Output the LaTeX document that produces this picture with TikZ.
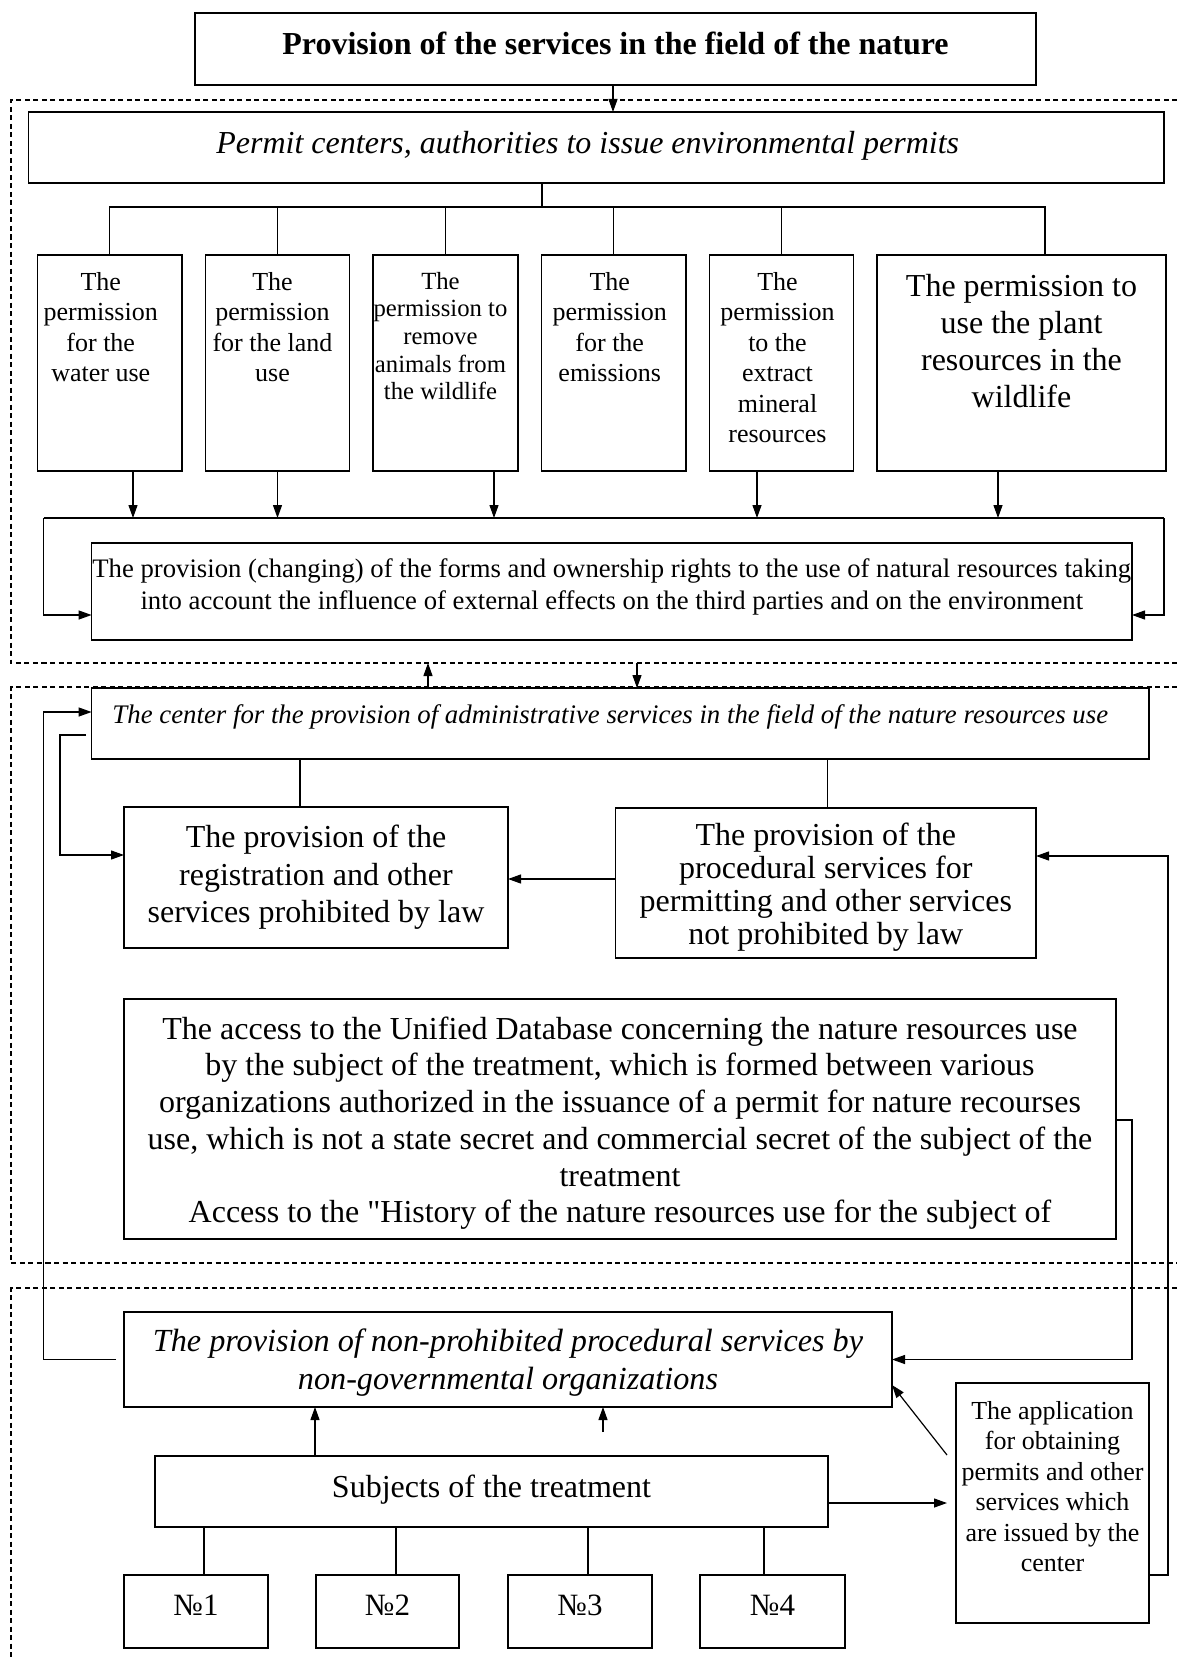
\documentclass[tikz,border=0pt]{standalone}
\usepackage{fontspec}
\setmainfont[Ligatures=TeXOff]{Liberation Serif}
\usetikzlibrary{arrows.meta,calc}
\newcommand\fs[2]{\fontsize{#1}{#2}\selectfont}
\tikzset{
 bx/.style={draw, line width=1.5pt, inner sep=0pt, outer sep=0pt},
 ln/.style={line width=1.2pt},
 arr/.style={line width=1.2pt, -{Triangle[length=13pt,width=9pt]}},
 dsh/.style={line width=1.3pt, dash pattern=on 5pt off 3.5pt},
 txt/.style={align=center, inner sep=0pt, anchor=north},
 ctxt/.style={align=center, inner sep=0pt},
}
% #1 text opts, #2 name, #3 x1, #4 y1, #5 x2, #6 y2, #7 text shift (up), #8 text
\newcommand\mybox[8][]{%
 \node[bx,minimum width={#5-#3},minimum height={#6-#4}] (#2) at ({(#3+#5)/2},{(#4+#6)/2}) {};%
 \node[ctxt,#1] (#2t) at ([yshift=#7]#2.center) {#8};}
\begin{document}
\begin{tikzpicture}[x=1pt,y=-1pt]
\useasboundingbox (0,0) rectangle (1177,1664);
% sections
\draw[dsh] (1177,100) -- (11,100) -- (11,663) -- (1177,663);
\draw[dsh] (1177,687) -- (11,687) -- (11,1263) -- (1177,1263);
\draw[dsh] (1177,1288) -- (11,1288) -- (11,1657);
\coordinate (s1b) at (11,663);
% top
\mybox[font=\bfseries\fs{32}{36}]{title}{195}{13}{1036}{85}{5.3pt}{Provision of the services in the field of the nature}
\mybox[font=\itshape\fs{32}{36},xshift=-8.5pt]{permit}{28.5}{112}{1164}{183}{2pt}{Permit centers, authorities to issue environmental permits}
\draw[arr] ([xshift=-2.5pt]title.south) -- ([xshift=-2.5pt]title.south |- permit.north);
% six boxes
\mybox{p1}{37.5}{255}{182}{471}{0pt}{}
\mybox{p2}{205.5}{255}{349.5}{471}{0pt}{}
\mybox{p3}{373}{255}{518}{471}{0pt}{}
\mybox{p4}{541.5}{255}{686}{471}{0pt}{}
\mybox{p5}{709.5}{255}{853.5}{471}{0pt}{}
\mybox{p6}{877}{255}{1166}{471}{0pt}{}
\node[txt,font=\fs{26}{30.5}] (t1) at ([yshift=-17pt,xshift=-9pt]p1.north) {The\\permission\\for the\\water use};
\node[txt,font=\fs{26}{30.5}] (t2) at ([yshift=-17pt,xshift=-5pt]p2.north) {The\\permission\\for the land\\use};
\node[txt,font=\fs{24.7}{27.6}] (t3) at ([yshift=-17pt,xshift=-5pt]p3.north) {The\\permission to\\remove\\animals from\\the wildlife};
\node[txt,font=\fs{26}{30.5}] (t4) at ([yshift=-17pt,xshift=-4pt]p4.north) {The\\permission\\for the\\emissions};
\node[txt,font=\fs{26}{30.5}] (t5) at ([yshift=-17pt,xshift=-4pt]p5.north) {The\\permission\\to the\\extract\\mineral\\resources};
\node[txt,font=\fs{32}{37}] (t6) at ([yshift=-19pt]p6.north) {The permission to\\use the plant\\resources in the\\wildlife};
\coordinate (bus) at (542,207);
\draw[ln] (permit.south -| bus) -- (bus);
\draw[ln] (p1.north) -- (p1.north |- bus) -- ([xshift=23.5pt]p6.north |- bus) -- ([xshift=23.5pt]p6.north);
\draw[ln] (p2.north) -- (p2.north |- bus);
\draw[ln] (p3.north) -- (p3.north |- bus);
\draw[ln] (p4.north) -- (p4.north |- bus);
\draw[ln] (p5.north) -- (p5.north |- bus);
% provision box
\mybox[font=\fs{26.7}{32}]{prov}{91.6}{543}{1132}{640}{4.2pt}{The provision (changing) of the forms and ownership rights to the use of natural resources taking\\into account the influence of external effects on the third parties and on the environment}
\coordinate (cl) at (43.5,518);
\coordinate (cr) at (1164,518);
\draw[ln] (cl) -- (cr);
\draw[arr] ([xshift=23.25pt]p1.south) -- ([xshift=23.25pt]p1.south |- cl);
\draw[arr] (p2.south) -- (p2.south |- cl);
\draw[arr] ([xshift=48.5pt]p3.south) -- ([xshift=48.5pt]p3.south |- cl);
\draw[arr] ([xshift=-24.5pt]p5.south) -- ([xshift=-24.5pt]p5.south |- cl);
\draw[arr] ([xshift=-23.5pt]p6.south) -- ([xshift=-23.5pt]p6.south |- cl);
\draw[arr] (cl) |- ([yshift=-23.5pt]prov.west);
\draw[arr] (cr) |- ([yshift=-23.5pt]prov.east);
% section 2
\mybox[font=\itshape\fs{26.8}{30},xshift=-10pt]{center}{91.6}{688}{1149}{759}{6.4pt}{The center for the provision of administrative services in the field of the nature resources use}
\draw[arr] ([xshift=-192.3pt]center.north) -- ([xshift=-192.3pt]center.north |- s1b);
\draw[arr] ([xshift=16.7pt]center.north |- s1b) -- ([xshift=16.7pt]center.north);
\mybox[font=\fs{32}{37.5}]{reg}{124}{807}{508}{948}{0pt}{The provision of the\\registration and other\\services prohibited by law}
\mybox[font=\fs{32}{33}]{proc}{615.6}{808}{1036}{958}{-4.5pt}{The provision of the\\procedural services for\\permitting and other services\\not prohibited by law}
\draw[ln] ([xshift=-16pt]reg.north) -- ([xshift=-16pt]reg.north |- center.south);
\draw[ln] ([xshift=2pt]proc.north) -- ([xshift=2pt]proc.north |- center.south);
\draw[arr] ([yshift=4pt]proc.west) -- ([yshift=4pt]proc.west -| reg.east);
\coordinate (l2) at (60,735);
\draw[arr] ([xshift=-5.6pt]center.west |- l2) -- (l2) |- ([yshift=22.5pt]reg.west);
\mybox[font=\fs{32}{36.7}]{db}{124}{999}{1116}{1239}{-4.2pt}{The access to the Unified Database concerning the nature resources use\\by the subject of the treatment, which is formed between various\\organizations authorized in the issuance of a permit for nature recourses\\use, which is not a state secret and commercial secret of the subject of the\\treatment\\Access to the "History of the nature resources use for the subject of}
% section 3
\mybox[font=\itshape\fs{32.2}{38}]{ngo}{124}{1312}{892}{1407}{-3pt}{The provision of non-prohibited procedural services by\\non-governmental organizations}
\mybox[font=\fs{32}{36}]{subj}{155}{1456}{828}{1527}{2pt}{Subjects of the treatment}
\mybox{app}{956}{1383}{1149}{1623}{0pt}{}
\node[txt,font=\fs{26}{30.5}] (tapp) at ([yshift=-18pt]app.north) {The application\\for obtaining\\permits and other\\services which\\are issued by the\\center};
\mybox[font=\fs{31}{36}]{n1}{124}{1575}{268}{1648}{6.4pt}{№1}
\mybox[font=\fs{31}{36}]{n2}{316}{1575}{459}{1648}{6.4pt}{№2}
\mybox[font=\fs{31}{36}]{n3}{508}{1575}{652}{1648}{6.4pt}{№3}
\mybox[font=\fs{31}{36}]{n4}{700}{1575}{845}{1648}{6.4pt}{№4}
\draw[ln] ([xshift=8pt]n1.north) -- ([xshift=8pt]n1.north |- subj.south);
\draw[ln] ([xshift=8.5pt]n2.north) -- ([xshift=8.5pt]n2.north |- subj.south);
\draw[ln] ([xshift=8pt]n3.north) -- ([xshift=8pt]n3.north |- subj.south);
\draw[ln] ([xshift=-8.5pt]n4.north) -- ([xshift=-8.5pt]n4.north |- subj.south);
\draw[arr] ([xshift=-176.5pt]subj.north) -- ([xshift=-176.5pt]subj.north |- ngo.south);
\coordinate (sa) at (603,1432);
\draw[arr] (sa) -- (sa |- ngo.south);
\draw[arr] ([yshift=-11.5pt]subj.east) -- ([yshift=-11.5pt,xshift=-9pt]subj.east -| app.west);
\draw[arr] ([xshift=-9pt,yshift=48pt]app.west) -- ([yshift=-25.5pt]ngo.east);
% long loops
\coordinate (lL) at (43.5,712);
\draw[arr] ([xshift=-8pt]ngo.west) -| (lL) -- (lL -| center.west);
\coordinate (rx) at (1168,856);
\draw[arr] ([yshift=-72pt]app.east) -| (rx) -- (rx -| proc.east);
\coordinate (dx) at (1132,1120);
\draw[arr] (db.east |- dx) -- (dx) |- (ngo.east);
\end{tikzpicture}
\end{document}
